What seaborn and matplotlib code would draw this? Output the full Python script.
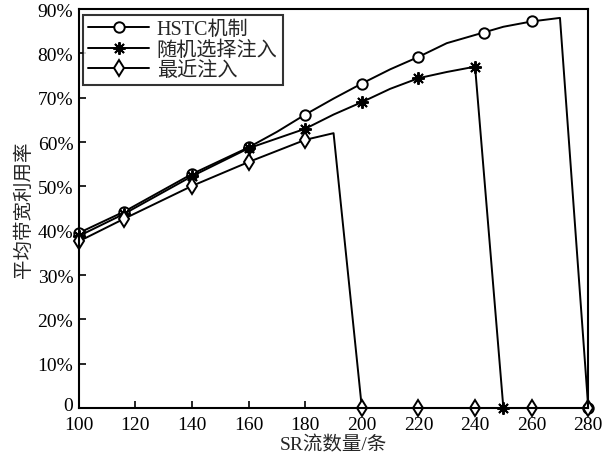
import numpy as np
import pandas as pd
import seaborn as sns
import matplotlib
matplotlib.use('agg')
import matplotlib.pyplot as plt
import matplotlib.transforms as mtransforms

# data (utilisation in %)
hstc_x = [100, 116, 140, 160, 170, 180, 190, 200, 210, 220, 230, 243, 250, 260, 270, 280]
hstc_y = [39.5, 44.3, 52.8, 58.8, 62.3, 66.2, 69.8, 73.2, 76.4, 79.2, 82.3, 84.7, 86.0, 87.2, 88.0, 0]
hstc_marks = [0, 1, 2, 3, 5, 7, 9, 11, 13, 15]

rand_x = [100, 116, 140, 160, 170, 180, 190, 200, 210, 220, 230, 240, 250, 280]
rand_y = [38.8, 43.8, 52.3, 58.6, 60.8, 63.0, 66.2, 69.0, 72.0, 74.4, 75.8, 77.0, 0, 0]
rand_marks = [0, 1, 2, 3, 5, 7, 9, 11, 12]

near_x = [100, 116, 140, 160, 170, 180, 190, 200, 220, 240, 260, 280]
near_y = [37.6, 42.7, 50.1, 55.5, 58.0, 60.5, 62.0, 0, 0, 0, 0, 0]
near_marks = [0, 1, 2, 3, 5, 7, 8, 9, 10, 11]

labels = ['HSTC机制', '随机选择注入', '最近注入']
yticks = list(range(0, 91, 10))
yticklabels = ['0'] + ['%d%%' % v for v in yticks[1:]]
xticks = list(range(100, 281, 20))

sns.set_theme(style='ticks')
plt.rcParams['font.family'] = ['Liberation Serif', 'Noto Sans CJK SC']
plt.rcParams['axes.unicode_minus'] = False

fig = plt.figure(figsize=(6.16, 4.56), dpi=100)
ax = fig.add_axes([0.128, 0.103, 0.827, 0.875])

series = [
    (hstc_x, hstc_y, hstc_marks, 'o', 7.5),
    (rand_x, rand_y, rand_marks, (8, 2, 0), 9),
    (near_x, near_y, near_marks, 'd', 8.5),
]
for (xs, ys, marks, mk, ms), lab in zip(series, labels):
    df = pd.DataFrame({'x': xs, 'y': ys})
    sns.lineplot(data=df, x='x', y='y', ax=ax, color='black', linewidth=1.4,
                 marker=mk, markersize=ms, markevery=marks,
                 markerfacecolor='white', markeredgecolor='black',
                 markeredgewidth=1.4, label=lab, clip_on=False,
                 estimator=None, sort=False)

ax.set_xlim(100, 280)
ax.set_ylim(0, 90)
ax.set_xticks(xticks)
ax.set_xticklabels([str(v) for v in xticks])
ax.set_yticks(yticks)
ax.set_yticklabels(yticklabels)
ax.tick_params(direction='in', length=5, width=1.2, labelsize=14,
               colors='black')
ax.tick_params(axis='x', pad=6)
ax.tick_params(axis='y', pad=4)
for s in ax.spines.values():
    s.set_linewidth(1.5)
    s.set_color('black')

# lift the "0" label a little so it clears the "100" below it
zero_lbl = ax.get_yticklabels()[0]
zero_lbl.set_transform(zero_lbl.get_transform() +
                       mtransforms.ScaledTranslation(0, 3 / 72, fig.dpi_scale_trans))

ax.set_xlabel('SR流数量/条', fontsize=14, labelpad=1)
ax.set_ylabel('平均带宽利用率', fontsize=14, labelpad=3)

leg = ax.legend(loc='upper left', fontsize=14.5, frameon=True, fancybox=False,
                edgecolor='black', handlelength=3.0, borderpad=0.25,
                labelspacing=0.05, handletextpad=0.4, borderaxespad=0.3,
                bbox_to_anchor=(-0.003, 1.0))
leg.get_frame().set_linewidth(1.5)

fig.savefig('out.png', dpi=100, facecolor='white')
